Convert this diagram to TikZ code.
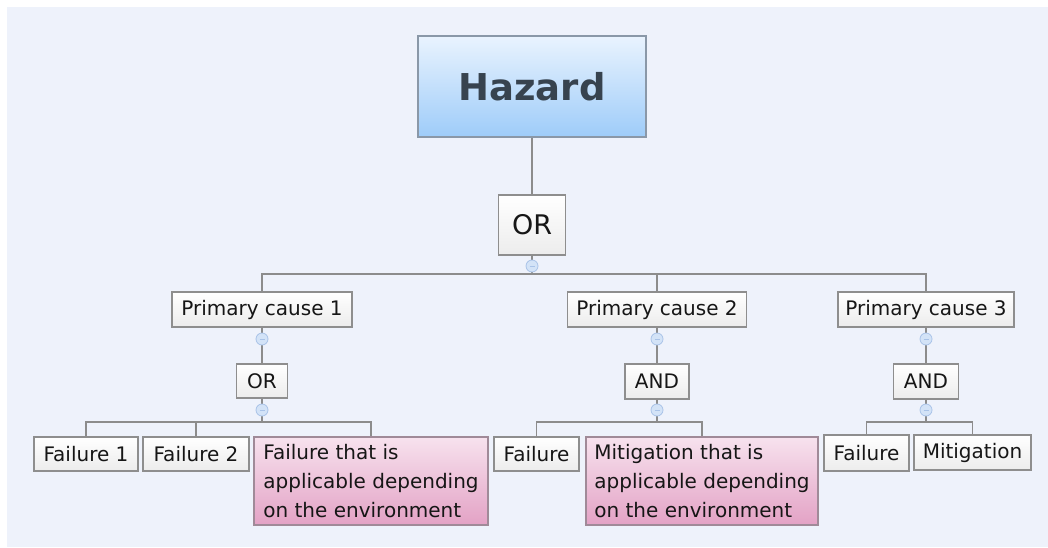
\documentclass[tikz,border=0pt]{standalone}
\usepackage{fontspec}
\setmainfont{DejaVu Sans}
\definecolor{bgc}{HTML}{EEF2FB}
\definecolor{lnc}{HTML}{8C8C8C}
\definecolor{boxline}{HTML}{8E8E8E}
\definecolor{boxbot}{HTML}{ECECEC}
\definecolor{txc}{HTML}{161616}
\definecolor{haztop}{HTML}{E9F3FE}
\definecolor{hazbot}{HTML}{9ECCF9}
\definecolor{hazline}{HTML}{8A98A8}
\definecolor{haztxt}{HTML}{37434F}
\definecolor{pinktop}{HTML}{F7E2EE}
\definecolor{pinkbot}{HTML}{E3A2C5}
\definecolor{pinkline}{HTML}{A08A98}
\definecolor{dotfill}{HTML}{D3E3F7}
\definecolor{dotline}{HTML}{A9C3E8}
\begin{document}
\begin{tikzpicture}[x=1pt,y=-1pt,
  conn/.style={draw=lnc,line width=1.7pt},
  plainbox/.style={draw=boxline,line width=1.4pt,top color=white,bottom color=boxbot,
    inner sep=0pt,text=txc,font=\fontsize{20}{24}\selectfont},
  pinkbox/.style={draw=pinkline,line width=1.4pt,top color=pinktop,bottom color=pinkbot,
    inner sep=0pt,text=txc,font=\fontsize{20}{29}\selectfont,align=left},
  hazbox/.style={draw=hazline,line width=1.4pt,top color=haztop,bottom color=hazbot,
    inner sep=0pt,text=haztxt,font=\fontsize{37}{44}\selectfont\bfseries},
  dot/.style={circle,draw=dotline,line width=0.8pt,fill=dotfill,minimum size=12pt,inner sep=0pt,
    path picture={\draw[dotline,line width=0.9pt] ([xshift=-2.5pt]path picture bounding box.center) -- ([xshift=2.5pt]path picture bounding box.center);}}
]
\useasboundingbox (0,0) rectangle (1048,547);
\fill[white] (0,0) rectangle (1048,547);
\fill[bgc] (7,7) rectangle (1048,547);

% nodes
\node[hazbox,minimum width=228pt,minimum height=101pt] (hazard) at (532,86.5) {Hazard};
\node[plainbox,minimum width=67pt,minimum height=60pt,font=\fontsize{27}{32}\selectfont] (or0) at (532,225) {OR};
\node[plainbox,minimum width=180pt,minimum height=35pt] (pc1) at (262,309.5) {Primary cause 1};
\node[plainbox,minimum width=179pt,minimum height=35pt] (pc2) at (657,309.5) {Primary cause 2};
\node[plainbox,minimum width=176pt,minimum height=35pt] (pc3) at (926,309.5) {Primary cause 3};
\node[plainbox,minimum width=51pt,minimum height=34pt] (g1) at (262,381) {OR};
\node[plainbox,minimum width=64pt,minimum height=35pt] (g2) at (657,381.5) {AND};
\node[plainbox,minimum width=65pt,minimum height=35pt] (g3) at (926,381.5) {AND};
\node[plainbox,minimum width=104pt,minimum height=34pt] (f11) at (86,454) {Failure 1};
\node[plainbox,minimum width=106pt,minimum height=34pt] (f12) at (196,454) {Failure 2};
\node[pinkbox,minimum width=234pt,minimum height=88pt] (f13) at (371,481) {Failure that is\\applicable depending\\on the environment};
\node[plainbox,minimum width=85pt,minimum height=34pt] (f21) at (536.5,454) {Failure};
\node[pinkbox,minimum width=232pt,minimum height=88pt] (f22) at (702,481) {Mitigation that is\\applicable depending\\on the environment};
\node[plainbox,minimum width=85pt,minimum height=36pt] (f31) at (866.5,453) {Failure};
\node[plainbox,minimum width=117pt,minimum height=35pt] (f32) at (972.5,452.5) {Mitigation};

% junction coordinates
\coordinate (j0) at (532,274);
\coordinate (j1) at (262,422);
\coordinate (j2) at (657,422);
\coordinate (j3) at (926,422);

% connectors
\draw[conn] (hazard.south) -- (or0.north);
\draw[conn] (or0.south) -- (j0);
\draw[conn] (pc1.north) |- (pc3.north |- j0) -- (pc3.north);
\draw[conn] (pc2.north) -- (pc2.north |- j0);

\draw[conn] (pc1.south) -- (g1.north);
\draw[conn] (g1.south) -- (j1);
\draw[conn] (f11.north) |- (f13.north |- j1) -- (f13.north);
\draw[conn] (f12.north) -- (f12.north |- j1);

\draw[conn] (pc2.south) -- (g2.north);
\draw[conn] (g2.south) -- (j2);
\draw[conn] (f21.north) |- (f22.north |- j2) -- (f22.north);

\draw[conn] (pc3.south) -- (g3.north);
\draw[conn] (g3.south) -- (j3);
\draw[conn] (f31.north) |- (f32.north |- j3) -- (f32.north);

% collapse dots
\node[dot] (c0) at (532,266) {};
\node[dot] (c1a) at (262,339) {};
\node[dot] (c1b) at (262,410) {};
\node[dot] (c2a) at (657,339) {};
\node[dot] (c2b) at (657,410) {};
\node[dot] (c3a) at (926,339) {};
\node[dot] (c3b) at (926,410) {};
\end{tikzpicture}
\end{document}
